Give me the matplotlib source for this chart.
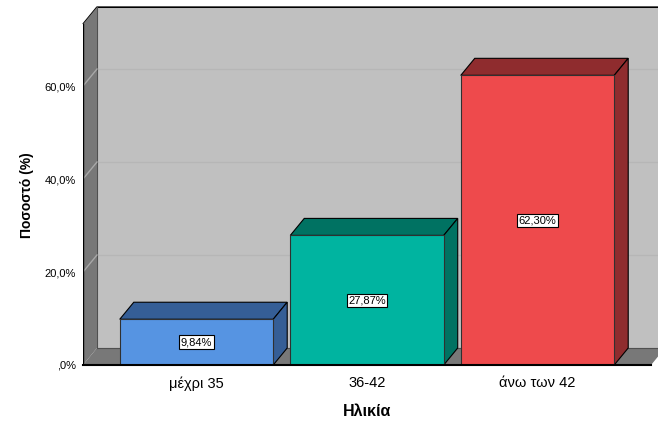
import matplotlib.pyplot as plt
from matplotlib.patches import Polygon

plt.rcParams['font.family'] = ['Liberation Sans', 'DejaVu Sans']

# data
categories = ['μέχρι 35', '36-42', 'άνω των 42']
percent = [9.84, 27.87, 62.30]
value_labels = ['9,84%', '27,87%', '62,30%']
ytick_vals = [0, 20, 40, 60]
ytick_labels = [',0%', '20,0%', '40,0%', '60,0%']

front_colors = ['#5694e2', '#00b4a0', '#ee4a4c']
dark_colors = ['#355e96', '#007262', '#8f2c2e']

# 3d look
dx, dy = 0.082, 3.66      # depth offset in data units
bw = 0.9                  # bar width
x0, x1 = -0.6657, 2.7067  # axes x range
floor_end = 2.666
wall_top = 73.3

fig = plt.figure(figsize=(6.58, 4.21), dpi=100)
ax = fig.add_axes([83 / 658, 56 / 421, 575 / 658, 358 / 421])
ax.set_xlim(x0, x1)
ax.set_ylim(0, 77)
for s in ax.spines.values():
    s.set_visible(False)

# back wall
ax.add_patch(Polygon([(x0 + dx, dy), (x0 + dx, wall_top + dy), (floor_end + dx, wall_top + dy),
                      (floor_end + dx, dy)], closed=True, fc='#c0c0c0', ec='none', zorder=1))
ax.plot([x0, x0 + dx, x1 + 0.1], [wall_top, wall_top + dy, wall_top + dy], color='black', lw=1.2,
        zorder=2, clip_on=False, solid_capstyle='butt')
for v in ytick_vals[1:]:
    ax.plot([x0 + dx, x1], [v + dy, v + dy], color='#b6b6b6', lw=1, zorder=1.5)

# floor
ax.add_patch(Polygon([(x0, 0), (x0 + dx, dy), (floor_end + dx, dy), (floor_end, 0)], closed=True,
                     fc='#787878', ec='none', zorder=2))
# side wall
ax.add_patch(Polygon([(x0, 0), (x0, wall_top), (x0 + dx, wall_top + dy), (x0 + dx, dy)], closed=True,
                     fc='#787878', ec='none', zorder=2))
ax.plot([x0 + dx, x0 + dx], [dy, wall_top + dy], color='#505050', lw=0.8, zorder=2.2)
ax.plot([x0 + dx, floor_end + dx], [dy, dy], color='#505050', lw=0.8, zorder=2.2)
for v in ytick_vals[1:]:
    ax.plot([x0, x0 + dx], [v, v + dy], color='#a8a8a8', lw=1, zorder=2.3)
ax.plot([x0, x0], [0, wall_top], color='black', lw=1, zorder=2.4)
ax.plot([x0, floor_end], [0, 0], color='black', lw=1.5, zorder=6, clip_on=False)

# bars
for i, (v, fc, dc) in enumerate(zip(percent, front_colors, dark_colors)):
    l, r = i - bw / 2, i + bw / 2
    ax.add_patch(Polygon([(l, v), (l + dx, v + dy), (r + dx, v + dy), (r, v)], closed=True,
                         fc=dc, ec='black', lw=0.8, zorder=3))
    ax.add_patch(Polygon([(r, 0), (r, v), (r + dx, v + dy), (r + dx, dy)], closed=True,
                         fc=dc, ec='black', lw=0.8, zorder=3))
    ax.add_patch(Polygon([(l, 0), (l, v), (r, v), (r, 0)], closed=True,
                         fc=fc, ec='#303030', lw=0.8, zorder=4))
    ax.text(i, v / 2, value_labels[i], ha='center', va='center', fontsize=8, zorder=5,
            bbox=dict(boxstyle='square,pad=0.15', fc='white', ec='black', lw=0.8))

ax.set_yticks(ytick_vals)
ax.set_yticklabels(ytick_labels, fontsize=8)
ax.set_xticks(range(len(categories)))
ax.set_xticklabels(categories, fontsize=10.5)
ax.tick_params(axis='y', length=0, pad=5)
ax.tick_params(axis='x', length=0, pad=8)

fig.text(27 / 658, 1 - 195 / 421, 'Ποσοστό (%)', rotation=90, ha='center', va='center',
         fontsize=10, fontweight='bold')
fig.text(367 / 658, 1 - 411 / 421, 'Ηλικία', ha='center', va='center', fontsize=11.5,
         fontweight='bold')

fig.savefig('out.png', dpi=100)
